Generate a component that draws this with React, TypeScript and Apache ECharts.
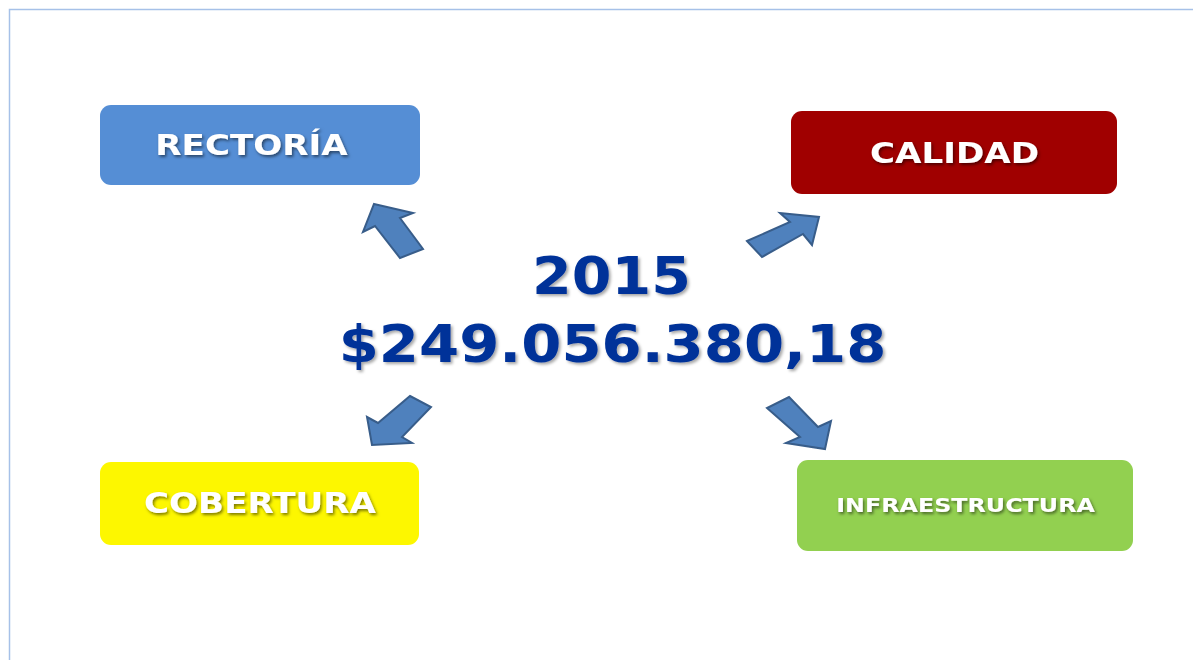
import React, { useEffect, useRef } from "react";
import * as echarts from "echarts";

const categories = ["RECTORÍA", "CALIDAD", "COBERTURA", "INFRAESTRUCTURA"];
const yearLabel = "2015";
const amountLabel = "$249.056.380,18";

const FONT = '"DejaVu Sans", Verdana, sans-serif';

export default function App() {
  const ref = useRef<HTMLDivElement>(null);
  useEffect(() => {
    if (!ref.current) return;
    const chart = echarts.init(ref.current, undefined, { renderer: "svg" });

    const boxes = [
      { x: 100, y: 105, w: 320, h: 80, fill: "#558ed5", fs: 28, cx: 251.5, cy: 145 },
      { x: 791, y: 111, w: 326, h: 83, fill: "#a00000", fs: 28, cx: 954.5, cy: 153 },
      { x: 100, y: 462, w: 319, h: 83, fill: "#fdf700", fs: 28, cx: 260, cy: 503 },
      { x: 797, y: 460, w: 336, h: 91, fill: "#92d050", fs: 19.5, cx: 965.5, cy: 505 },
    ];

    const arrows: number[][][] = [
      [[374, 204], [413, 213], [400, 218], [423, 249], [400, 258], [375, 226], [363, 232]],
      [[747, 241], [790, 222], [780, 213], [819, 217], [812, 245], [803, 234], [762, 257]],
      [[410, 396], [431, 407], [402, 437], [412, 443], [372, 445], [367, 417], [378, 423]],
      [[789, 397], [818, 427], [831, 421], [825, 449], [786, 443], [800, 437], [767, 408]],
    ];

    const graphic: any[] = [
      {
        type: "polyline",
        shape: { points: [[9.5, 660], [9.5, 9.5], [1193, 9.5]] },
        style: { stroke: "#a6c1e8", lineWidth: 1.5, fill: "none" },
      },
    ];

    boxes.forEach((b, i) => {
      graphic.push({
        type: "rect",
        shape: { x: b.x, y: b.y, width: b.w, height: b.h, r: 11 },
        style: { fill: b.fill },
      });
      graphic.push({
        type: "text",
        x: b.cx,
        y: b.cy,
        scaleX: 1.22,
        style: {
          text: categories[i],
          fill: "#ffffff",
          font: `bold ${b.fs}px ${FONT}`,
          align: "center",
          verticalAlign: "middle",
          textShadowColor: "rgba(0,0,0,0.5)",
          textShadowBlur: 3,
          textShadowOffsetX: 1.5,
          textShadowOffsetY: 2,
        },
      });
    });

    arrows.forEach((pts) => {
      graphic.push({
        type: "polygon",
        shape: { points: pts },
        style: { fill: "#4f81bd", stroke: "#385d8a", lineWidth: 2, lineJoin: "miter" },
      });
    });

    graphic.push({
      type: "text",
      x: 611.5,
      y: 277,
      scaleX: 1.12,
      style: {
        text: yearLabel,
        fill: "#003399",
        font: `bold 51px ${FONT}`,
        align: "center",
        verticalAlign: "middle",
        textShadowColor: "rgba(0,0,0,0.35)",
        textShadowBlur: 3,
        textShadowOffsetX: 2,
        textShadowOffsetY: 2,
      },
    });
    graphic.push({
      type: "text",
      x: 612.5,
      y: 344,
      scaleX: 1.11,
      style: {
        text: amountLabel,
        fill: "#003399",
        font: `bold 52px ${FONT}`,
        align: "center",
        verticalAlign: "middle",
        textShadowColor: "rgba(0,0,0,0.35)",
        textShadowBlur: 3,
        textShadowOffsetX: 2,
        textShadowOffsetY: 2,
      },
    });

    chart.setOption({ animation: false, graphic });
    return () => chart.dispose();
  }, []);

  return (
    <div
      ref={ref}
      style={{ position: "fixed", left: 0, top: 0, width: 1193, height: 660, background: "#ffffff" }}
    />
  );
}
